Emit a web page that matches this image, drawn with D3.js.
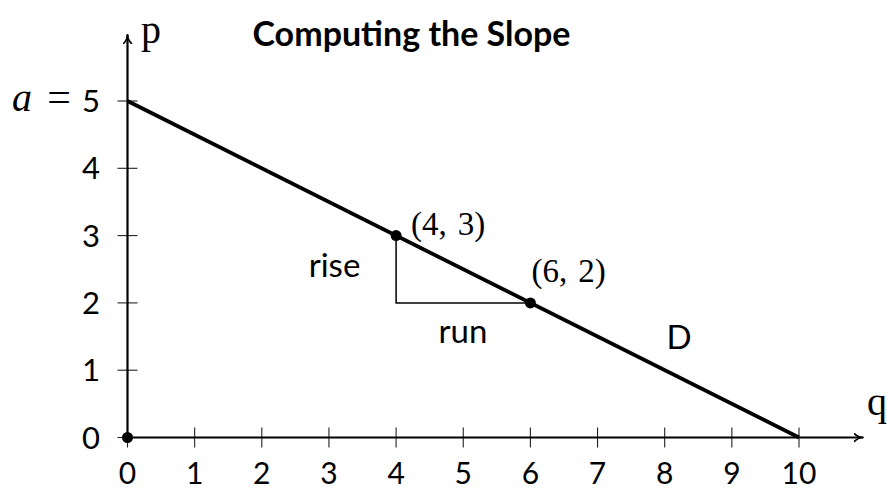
<!DOCTYPE html>
<html>
<head>
<meta charset="utf-8">
<script src="https://cdn.jsdelivr.net/npm/d3@7"></script>
<style>
  html, body { margin: 0; padding: 0; background: #fff; }
  svg { display: block; }
  .sans { font-family: Lato, "Open Sans", sans-serif; }
  .serif { font-family: "Liberation Serif", "DejaVu Serif", serif; }
</style>
</head>
<body>
<svg id="chart" width="887" height="491"></svg>
<script>
// Demand line D: p = a - q/2 with intercepts (0,5) and (10,0)
const demandQ = [0, 10];
const demandP = [5, 0];
// Marked points on the line
const pointQ = [0, 4, 6];
const pointP = [0, 3, 2];
// Axis ticks
const xTicks = [0, 1, 2, 3, 4, 5, 6, 7, 8, 9, 10];
const yTicks = [0, 1, 2, 3, 4, 5];

const svg = d3.select("#chart");
const x = d3.scaleLinear().domain([0, 10]).range([127.5, 799]);
const y = d3.scaleLinear().domain([0, 5]).range([437.5, 101]);

// Arrow marker for the axes
svg.append("defs").append("marker")
  .attr("id", "arrow")
  .attr("viewBox", "0 0 10 10")
  .attr("refX", 9).attr("refY", 5)
  .attr("markerWidth", 10).attr("markerHeight", 10)
  .attr("markerUnits", "userSpaceOnUse")
  .attr("orient", "auto")
  .append("path")
  .attr("d", "M0,0.5 Q4,5 10,5 Q4,5 0,9.5")
  .attr("fill", "none")
  .attr("stroke", "#000")
  .attr("stroke-width", 1.6);

// Tick marks crossing the axes
svg.append("g").selectAll("line").data(xTicks.slice(1)).join("line")
  .attr("x1", d => x(d)).attr("x2", d => x(d))
  .attr("y1", y(0) - 10).attr("y2", y(0) + 10)
  .attr("stroke", "#222").attr("stroke-width", 1.1);
svg.append("g").selectAll("line").data(yTicks).join("line")
  .attr("x1", x(0) - 10).attr("x2", x(0) + 10)
  .attr("y1", d => y(d)).attr("y2", d => y(d))
  .attr("stroke", "#222").attr("stroke-width", 1.1);
svg.append("line")
  .attr("x1", x(0)).attr("x2", x(0))
  .attr("y1", y(0)).attr("y2", y(0) + 10)
  .attr("stroke", "#222").attr("stroke-width", 1.1);

// Axes with arrowheads
svg.append("line")
  .attr("x1", x(0)).attr("y1", y(0))
  .attr("x2", x(10.95)).attr("y2", y(0))
  .attr("stroke", "#000").attr("stroke-width", 2.2)
  .attr("marker-end", "url(#arrow)");
svg.append("line")
  .attr("x1", x(0)).attr("y1", y(0))
  .attr("x2", x(0)).attr("y2", y(5.98))
  .attr("stroke", "#000").attr("stroke-width", 2.2)
  .attr("marker-end", "url(#arrow)");

// Tick labels
svg.append("g").selectAll("text").data(xTicks).join("text")
  .attr("class", "sans")
  .attr("x", d => x(d)).attr("y", 484)
  .attr("text-anchor", "middle")
  .attr("font-size", 30)
  .text(d => d);
svg.append("g").selectAll("text").data(yTicks).join("text")
  .attr("class", "sans")
  .attr("x", 100).attr("y", d => y(d) + 11)
  .attr("text-anchor", "end")
  .attr("font-size", 31)
  .text(d => d);

// Intercept label: "a =" in front of the top tick value
svg.append("text").attr("class", "serif")
  .attr("x", 22).attr("y", 111).attr("text-anchor", "middle")
  .attr("font-size", 40).attr("font-style", "italic")
  .text("a");
svg.append("text").attr("class", "serif")
  .attr("x", 59).attr("y", 111).attr("text-anchor", "middle")
  .attr("font-size", 42)
  .text("=");

// Axis names
svg.append("text").attr("class", "serif")
  .attr("x", 141).attr("y", 43)
  .attr("font-size", 40)
  .text("p");
svg.append("text").attr("class", "serif")
  .attr("x", 867).attr("y", 415)
  .attr("font-size", 40)
  .text("q");

// Rise / run triangle
svg.append("path")
  .attr("d", d3.line()([[x(pointQ[1]), y(pointP[1])], [x(pointQ[1]), y(pointP[2])], [x(pointQ[2]), y(pointP[2])]]))
  .attr("fill", "none").attr("stroke", "#000").attr("stroke-width", 1.5);

// Demand line
svg.append("path")
  .attr("d", d3.line().x(d => x(d[0])).y(d => y(d[1]))(demandQ.map((q, i) => [q, demandP[i]])))
  .attr("fill", "none").attr("stroke", "#000").attr("stroke-width", 3.8);

// Points
svg.append("g").selectAll("circle").data(pointQ).join("circle")
  .attr("cx", d => x(d)).attr("cy", (d, i) => y(pointP[i]))
  .attr("r", 5.5).attr("fill", "#000");

// Coordinate labels built from the point values
function coordLabel(i, dx, dy) {
  const t = svg.append("text").attr("class", "serif")
    .attr("x", x(pointQ[i]) + dx).attr("y", y(pointP[i]) + dy)
    .attr("font-size", 33);
  t.append("tspan").text(`(${pointQ[i]},`);
  t.append("tspan").attr("dx", 11).text(`${pointP[i]})`);
}
coordLabel(1, 15, -1);
coordLabel(2, 1, -21);

// Annotations
svg.append("text").attr("class", "sans")
  .attr("x", 334.5).attr("y", 277).attr("text-anchor", "middle")
  .attr("font-size", 33).text("rise");
svg.append("text").attr("class", "sans")
  .attr("x", 463).attr("y", 343).attr("text-anchor", "middle")
  .attr("font-size", 33).text("run");
svg.append("text").attr("class", "sans")
  .attr("x", 679).attr("y", 349).attr("text-anchor", "middle")
  .attr("font-size", 33).text("D");

// Title
svg.append("text").attr("class", "sans")
  .attr("x", 411.5).attr("y", 46).attr("text-anchor", "middle")
  .attr("font-size", 34).attr("font-weight", "bold")
  .text("Computing the Slope");
</script>
</body>
</html>
